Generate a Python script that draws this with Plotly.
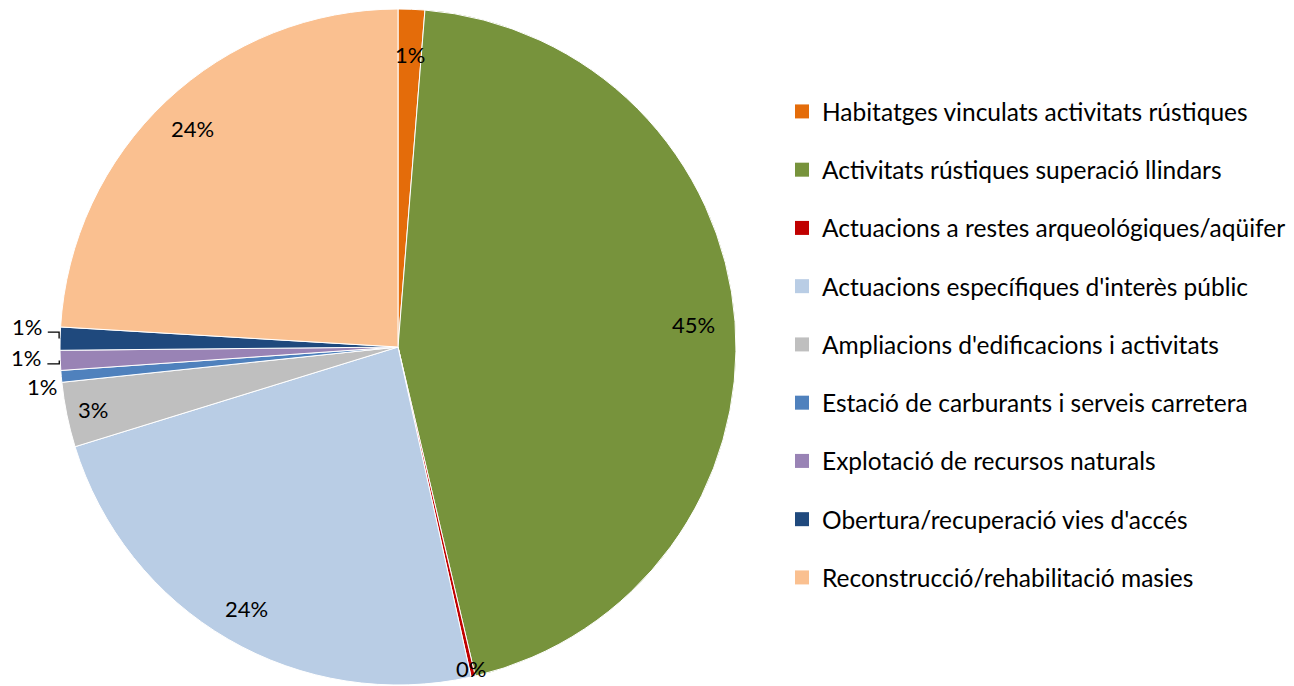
import math
import plotly.graph_objects as go

# ---- data ----
labels = [
    "Habitatges vinculats activitats rústiques",
    "Activitats rústiques superació llindars",
    "Actuacions a restes arqueológiques/aqüifer",
    "Actuacions específiques d'interès públic",
    "Ampliacions d'edificacions i activitats",
    "Estació de carburants i serveis carretera",
    "Explotació de recursos naturals",
    "Obertura/recuperació vies d'accés",
    "Reconstrucció/rehabilitació masies",
]
values = [1.27, 45.05, 0.2, 23.7, 3.1, 0.56, 0.95, 1.1, 24.05]
colors = ["#E46C0A", "#77933C", "#C00000", "#B9CDE5", "#BFBFBF",
          "#4F81BD", "#9983B5", "#1F497D", "#FAC090"]

# ---- styling / layout constants ----
W, H = 1294, 686
CX, CY, R = 398, 347, 338          # pie centre / radius in pixels
FONT = "Lato"
LEG_SIZE = 24.5
LAB_SIZE = 22
label_rf = [0.865, 0.877, 0.976, 0.894, 0.92, 1.06, 1.10, 1.10, 0.888]
label_dang = [0, 0, 0, 0, 0, -1.3, 0.6, 1.8, 0]
leader = [False, False, False, False, False, False, True, True, False]


def px2paper(x, y):
    return x / W, 1 - y / H


fig = go.Figure()
fig.add_trace(go.Pie(
    labels=labels, values=values, sort=False, direction="clockwise",
    rotation=0, textinfo="none", hoverinfo="label+percent",
    marker=dict(colors=colors, line=dict(color="white", width=1)),
    domain=dict(x=[(CX - R) / W, (CX + R) / W], y=[1 - (CY + R) / H, 1 - (CY - R) / H]),
    showlegend=False,
))

# legend via dummy traces (one group each for spacing)
for i, (lab, col) in enumerate(zip(labels, colors)):
    fig.add_trace(go.Scatter(
        x=[None], y=[None], mode="markers", name=lab, legendgroup=str(i),
        marker=dict(symbol="square", size=14, color=col), showlegend=True,
    ))

total = sum(values)
annotations = []
shapes = []
cum = 0.0
for i, v in enumerate(values):
    mid = (cum + v / 2) / total * 360 + label_dang[i]
    cum += v
    t = math.radians(mid)
    r = R * label_rf[i]
    x = CX + r * math.sin(t)
    y = CY - r * math.cos(t)
    px, py = px2paper(x, y)
    annotations.append(dict(
        x=px, y=py, xref="paper", yref="paper", showarrow=False,
        text=f"{round(v / total * 100)}%",
        font=dict(family=FONT, size=LAB_SIZE, color="black"),
        xanchor="center", yanchor="middle",
    ))
    if leader[i]:
        tm = math.radians((cum - v / 2) / total * 360)
        ex = CX + R * math.sin(tm)
        ey = CY - R * math.cos(tm)
        ly = y + 6
        lx0 = x + 21
        pts = [(lx0, ly), (ex - 1, ly), (ex - 1, ey)]
        path = "M " + " L ".join(f"{a / W},{1 - b / H}" for a, b in pts)
        shapes.append(dict(type="path", path=path, xref="paper", yref="paper",
                           line=dict(color="black", width=1.3)))

fig.update_layout(
    width=W, height=H,
    margin=dict(l=0, r=0, t=0, b=0),
    paper_bgcolor="white", plot_bgcolor="white",
    xaxis=dict(visible=False), yaxis=dict(visible=False),
    font=dict(family=FONT, size=LEG_SIZE, color="black"),
    legend=dict(x=782 / W, y=1 - 89 / H, xanchor="left", yanchor="top",
                tracegroupgap=23.4, itemwidth=30,
                font=dict(family=FONT, size=LEG_SIZE, color="black"),
                bgcolor="rgba(0,0,0,0)"),
    annotations=annotations,
    shapes=shapes,
)

fig.write_html("out.html", config={"displayModeBar": False},
               post_script="document.body.style.margin='0';")
